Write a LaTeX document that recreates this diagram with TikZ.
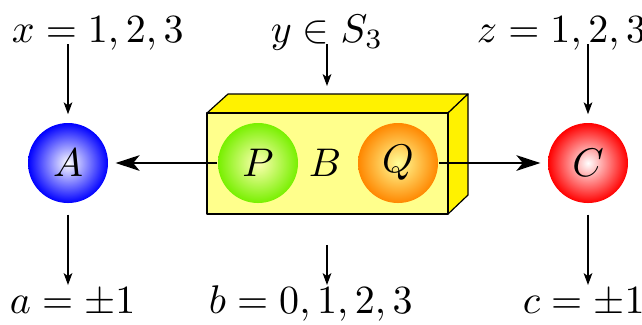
\documentclass[tikz,border=0pt]{standalone}
\usetikzlibrary{arrows.meta}
\definecolor{pgreen}{RGB}{120,240,0}
\definecolor{qorange}{RGB}{255,135,0}
\definecolor{frontyel}{RGB}{255,255,140}
\begin{document}
\begin{tikzpicture}[x=0.25pt,y=-0.25pt,
  ball/.style={circle,minimum size=20pt,inner sep=0pt,font=\normalsize},
  lab/.style={inner sep=0pt,anchor=base west},
  arr/.style={-{Stealth[length=3pt,width=2.2pt,inset=0.8pt]},line width=0.3pt},
  harr/.style={-{Stealth[length=6pt,width=3.9pt,inset=1.6pt]},line width=0.5pt,shorten >=1.7pt},
  face/.style={draw=black,line width=0.3pt,line join=round}]
\useasboundingbox (0,0) rectangle (642,324);
% box
\filldraw[face,fill=yellow] (207,113) -- (228,94) -- (468,94) -- (448,113) -- cycle;
\filldraw[face,fill=yellow] (448,113) -- (468,94) -- (468,195) -- (448,214) -- cycle;
\filldraw[face,fill=frontyel] (207,113) rectangle (448,214);
% balls
\node[ball,shading=radial,inner color=white,outer color=blue] (A) at (68,163) {$A$};
\node[ball,shading=radial,inner color=yellow!30!white,outer color=pgreen] (P) at (258,163) {$P$};
\node (B) at (325,163) {$B$};
\node[ball,shading=radial,inner color=yellow!40!white,outer color=qorange] (Q) at (398,163) {$Q$};
\node[ball,shading=radial,inner color=white,outer color=red] (C) at (588,163) {$C$};
\coordinate (boxtop) at (327,94);
\coordinate (boxbot) at (327,214);
% labels
\node[lab] (xl) at (11,42) {$x=1,2,3$};
\node[lab] (yl) at (270,42) {$y\in S_3$};
\node[lab] (zl) at (476,42) {$z=1,2,3$};
\node[lab] (al) at (9,313) {$a=\pm1$};
\node[lab] (bl) at (208,313) {$b=0,1,2,3$};
\node[lab] (cl) at (522,313) {$c=\pm1$};
% arrows
\draw[harr] (P) -- (A);
\draw[harr] (Q) -- (C);
\draw[arr] ([yshift=-0.5pt]A |- xl.base) -- ([yshift=2pt]A.north);
\draw[arr] ([yshift=-0.5pt]boxtop |- yl.base) -- ([yshift=2pt]boxtop);
\draw[arr] ([yshift=-0.5pt]C |- zl.base) -- ([yshift=2pt]C.north);
\draw[arr] ([yshift=-2.7pt]A.south) -- ([yshift=7pt]A |- al.base);
\draw[arr] ([yshift=-7.7pt]boxbot) -- ([yshift=7pt]boxbot |- bl.base);
\draw[arr] ([yshift=-2.7pt]C.south) -- ([yshift=7pt]C |- cl.base);
\end{tikzpicture}
\end{document}
